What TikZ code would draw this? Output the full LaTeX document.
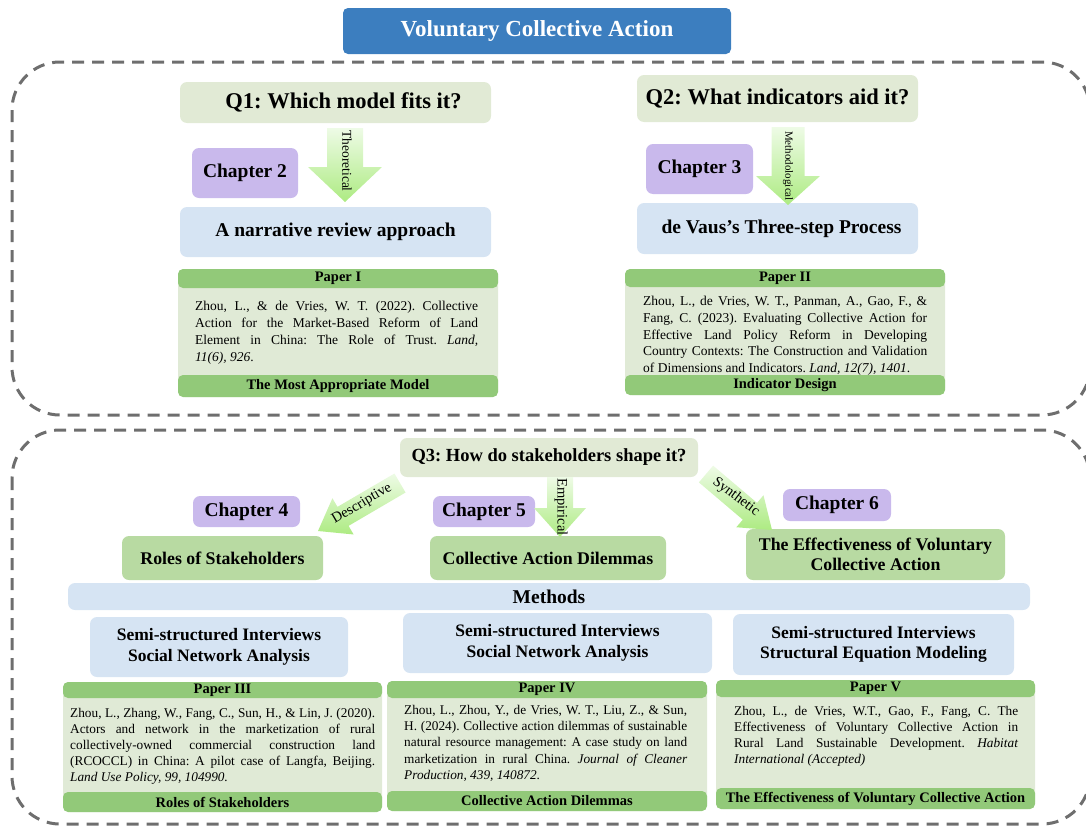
\documentclass[tikz,border=0pt]{standalone}
\usepackage{fontspec}
\setmainfont{Liberation Serif}
\usetikzlibrary{calc}
\definecolor{titleblue}{HTML}{3C7EBF}
\definecolor{qgreen}{HTML}{E1EAD5}
\definecolor{chappurple}{HTML}{C9B9EC}
\definecolor{lightblue}{HTML}{D6E4F3}
\definecolor{resgreen}{HTML}{B8DAA2}
\definecolor{paperhead}{HTML}{92C979}
\definecolor{paperbody}{HTML}{E0EAD6}
\definecolor{dashgray}{HTML}{6E6E6E}
\definecolor{arrowlight}{HTML}{EEFBE6}
\definecolor{arrowgreen}{HTML}{ADEB82}
\frenchspacing
% reference text of a paper, justified with fixed line ends
\newcommand\reftext[4]{\parbox[t]{#1}{\fontsize{#2}{#3}\selectfont\sloppy\hyphenpenalty=10000 #4}}
% block arrow from a tail coordinate to a tip coordinate:
% #1 tail, #2 tip, #3 shaft half width, #4 head half width, #5 head length
\newcommand\blockarrow[5]{%
  \coordinate (#1-hb) at ($(#2)!#5!(#1)$);
  \shade[arrowshade] ($(#1)!#3!90:(#2)$) -- ($(#1-hb)!#3!90:(#2)$) -- ($(#1-hb)!#4!90:(#2)$)
    -- (#2) -- ($(#1-hb)!#4!-90:(#2)$) -- ($(#1-hb)!#3!-90:(#2)$) -- ($(#1)!#3!-90:(#2)$) -- cycle;}
\begin{document}
\begin{tikzpicture}[x=1pt,y=-1pt,
  box/.style={rounded corners=7pt, inner sep=0pt, align=center},
  titlebox/.style={box, rounded corners=5pt, fill=titleblue, text=white, font=\bfseries\fontsize{23}{27}\selectfont},
  qbox/.style={box, fill=qgreen, font=\bfseries\fontsize{22.5}{26}\selectfont},
  chapbox/.style={box, fill=chappurple, font=\bfseries\fontsize{19.5}{23}\selectfont},
  approachbox/.style={box, fill=lightblue, font=\bfseries\fontsize{19.5}{23}\selectfont},
  resultbox/.style={box, fill=resgreen, font=\bfseries\fontsize{17.8}{20.5}\selectfont},
  methodbox/.style={box, fill=lightblue, font=\bfseries\fontsize{17.5}{20.5}\selectfont},
  paperbody/.style={box, fill=paperbody},
  paperbar/.style={box, rounded corners=5pt, fill=paperhead, font=\bfseries\fontsize{14.5}{16}\selectfont},
  container/.style={draw=dashgray, line width=3pt, dash pattern=on 12pt off 8pt, rounded corners=48pt},
  arrowshade/.style={top color=arrowlight, bottom color=arrowgreen},
  arrowlabel/.style={inner sep=0pt, font=\fontsize{#1}{#1}\selectfont},
]
\useasboundingbox (0,0) rectangle (1086,830);

% dashed containers of the two parts
\draw[container] (12,62) rectangle (1090,415);
\draw[container] (12,430) rectangle (1090,824);

% title
\node[titlebox, minimum width=388pt, minimum height=46pt] (title) at (537,31) {Voluntary Collective Action};

% ---------- Q1 ----------
\node[qbox, minimum width=311pt, minimum height=41pt] (q1) at (335.5,102.5) {\hspace*{16pt}Q1: Which model fits it?};
\node[chapbox, minimum width=106pt, minimum height=50pt] (ch2) at (245,173) {Chapter 2};
\node[approachbox, minimum width=311pt, minimum height=50pt] (narr) at (335.5,232) {A narrative review approach};
\coordinate (a1) at (345,128);
\coordinate (a1tip) at (345,202);
\blockarrow{a1}{a1tip}{18pt}{37pt}{35pt}
\node[arrowlabel=13.5, rotate=-90] (l1) at (347,161) {Theoretical};

% Paper I
\node[paperbody, minimum width=320pt, minimum height=128pt] (p1) at (338,333) {};
\node[paperbar, minimum width=320pt, minimum height=19pt] (p1h) at (338,278.5) {Paper I};
\node[paperbar, minimum width=320pt, minimum height=22pt] (p1f) at (338,386) {The Most Appropriate Model};
\node[anchor=north west, inner sep=0pt] (p1t) at (195,301) {\reftext{283pt}{13.5}{16.9}{Zhou, L., \& de Vries, W. T. (2022). Collective\linebreak
Action for the Market-Based Reform of Land\linebreak
Element in China: The Role of Trust. \textit{Land,}\linebreak
\textit{11(6), 926}.}};

% ---------- Q2 ----------
\node[qbox, minimum width=281pt, minimum height=47pt] (q2) at (777.5,98.5) {Q2: What indicators aid it?};
\node[chapbox, minimum width=107pt, minimum height=50pt] (ch3) at (699.5,169) {Chapter 3};
\node[approachbox, minimum width=281pt, minimum height=51pt] (vaus) at (777.5,228.5) {\hspace*{8pt}de Vaus's Three-step Process};
\coordinate (a2) at (788,127);
\coordinate (a2tip) at (788,205);
\blockarrow{a2}{a2tip}{16.5pt}{32pt}{29pt}
\node[arrowlabel=11, rotate=-90] (l2) at (788,166) {Methodological};

% Paper II
\node[paperbody, minimum width=320pt, minimum height=126pt] (p2) at (785,332) {};
\node[paperbar, minimum width=320pt, minimum height=18pt] (p2h) at (785,278) {Paper II};
\node[paperbar, minimum width=320pt, minimum height=20pt] (p2f) at (785,385) {Indicator Design};
\node[anchor=north west, inner sep=0pt] (p2t) at (643,296) {\reftext{284pt}{13.5}{16.8}{Zhou, L., de Vries, W. T., Panman, A., Gao, F., \&\linebreak
Fang, C. (2023). Evaluating Collective Action for\linebreak
Effective Land Policy Reform in Developing\linebreak
Country Contexts: The Construction and Validation\linebreak
of Dimensions and Indicators. \textit{Land, 12(7), 1401}.}};

% ---------- Q3 ----------
\node[qbox, minimum width=298pt, minimum height=39pt, font=\bfseries\fontsize{18.5}{22}\selectfont] (q3) at (549,457.5) {Q3: How do stakeholders shape it?};
\node[chapbox, minimum width=107pt, minimum height=31pt] (ch4) at (246.5,511.5) {Chapter 4};
\node[chapbox, minimum width=102pt, minimum height=31pt] (ch5) at (484,511.5) {Chapter 5};
\node[chapbox, minimum width=108pt, minimum height=32pt] (ch6) at (837,505) {Chapter 6};
\node[resultbox, minimum width=201pt, minimum height=44pt] (roles) at (222.5,558) {Roles of Stakeholders};
\node[resultbox, minimum width=236pt, minimum height=44pt] (dilem) at (548,558) {Collective Action Dilemmas};
\node[resultbox, minimum width=259pt, minimum height=51pt] (effect) at (875.5,554.5) {The Effectiveness of Voluntary\\Collective Action};

% descriptive arrow, down to the left
\coordinate (a4) at (400,483);
\coordinate (a4tip) at (318,531);
\blockarrow{a4}{a4tip}{11pt}{21pt}{29pt}
\node[arrowlabel=14.5, rotate=30.3] (l4) at (362,504) {Descriptive};

% empirical arrow, straight down
\coordinate (a5) at (560,477);
\coordinate (a5tip) at (560,537);
\blockarrow{a5}{a5tip}{13pt}{26pt}{29pt}
\node[arrowlabel=14.5, rotate=-90] (l5) at (561,507) {Empirical};

% synthetic arrow, down to the right
\coordinate (a6) at (706,474);
\coordinate (a6tip) at (772,530);
\blockarrow{a6}{a6tip}{11pt}{21pt}{29pt}
\node[arrowlabel=14.5, rotate=-37] (l6) at (736,497) {Synthetic};

% methods
\node[methodbox, minimum width=962pt, minimum height=27pt, font=\bfseries\fontsize{19.5}{22}\selectfont] (methods) at (549,596.5) {Methods};
\node[methodbox, minimum width=258pt, minimum height=60pt] (m1) at (219,647) {Semi-structured Interviews\\Social Network Analysis};
\node[methodbox, minimum width=309pt, minimum height=60pt] (m2) at (557.5,643) {Semi-structured Interviews\\Social Network Analysis};
\node[methodbox, minimum width=281pt, minimum height=61pt] (m3) at (873.5,644.5) {Semi-structured Interviews\\Structural Equation Modeling};

% Paper III
\node[paperbody, minimum width=319pt, minimum height=130pt] (p3) at (222.5,747) {};
\node[paperbar, minimum width=319pt, minimum height=16pt] (p3h) at (222.5,690) {Paper III};
\node[paperbar, minimum width=319pt, minimum height=20pt] (p3f) at (222.5,802) {Roles of Stakeholders};
\node[anchor=north west, inner sep=0pt] (p3t) at (70,708) {\reftext{305pt}{13.3}{15.9}{Zhou, L., Zhang, W., Fang, C., Sun, H., \& Lin, J. (2020).\linebreak
Actors and network in the marketization of rural\linebreak
collectively-owned commercial construction land\linebreak
(RCOCCL) in China: A pilot case of Langfa, Beijing.\linebreak
\textit{Land Use Policy, 99, 104990.}}};

% Paper IV
\node[paperbody, minimum width=320pt, minimum height=130pt] (p4) at (547,746) {};
\node[paperbar, minimum width=320pt, minimum height=17pt] (p4h) at (547,689.5) {Paper IV};
\node[paperbar, minimum width=320pt, minimum height=20pt] (p4f) at (547,801) {Collective Action Dilemmas};
\node[anchor=north west, inner sep=0pt] (p4t) at (404,705) {\reftext{283pt}{13.3}{16.2}{Zhou, L., Zhou, Y., de Vries, W. T., Liu, Z., \& Sun,\linebreak
H. (2024). Collective action dilemmas of sustainable\linebreak
natural resource management: A case study on land\linebreak
marketization in rural China. \textit{Journal of Cleaner}\linebreak
\textit{Production, 439, 140872}.}};

% Paper V
\node[paperbody, minimum width=319pt, minimum height=129pt] (p5) at (875.5,744.5) {};
\node[paperbar, minimum width=319pt, minimum height=17pt] (p5h) at (875.5,688.5) {Paper V};
\node[paperbar, minimum width=319pt, minimum height=21pt] (p5f) at (875.5,798.5) {The Effectiveness of Voluntary Collective Action};
\node[anchor=north west, inner sep=0pt] (p5t) at (734,706) {\reftext{284pt}{13.3}{16.1}{Zhou, L., de Vries, W.T., Gao, F., Fang, C. The\linebreak
Effectiveness of Voluntary Collective Action in\linebreak
Rural Land Sustainable Development. \textit{Habitat}\linebreak
\textit{International (Accepted)}}};
\end{tikzpicture}
\end{document}
